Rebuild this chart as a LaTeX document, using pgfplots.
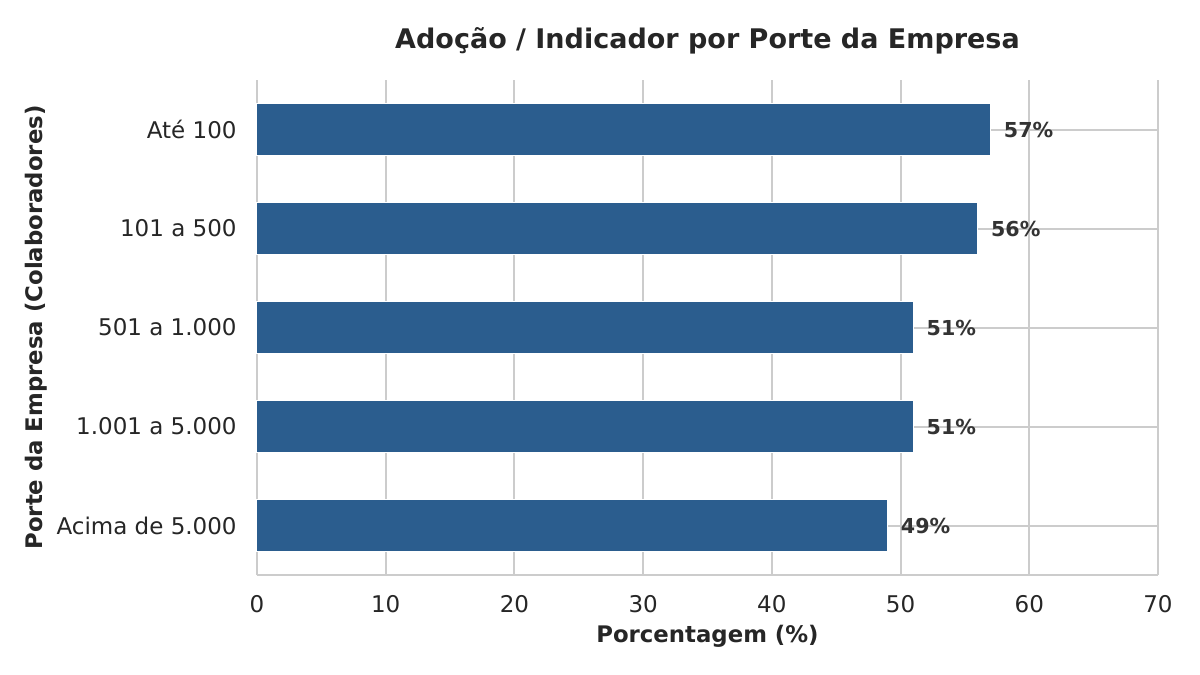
\documentclass[border=0pt]{standalone}
\usepackage{pgfplots}
\pgfplotsset{compat=1.18}
\usepackage{fontspec}
\setmainfont{DejaVu Sans}
\definecolor{barc}{HTML}{2B5D8E}
\definecolor{gridc}{HTML}{CCCCCC}
\definecolor{txt}{HTML}{262626}
\definecolor{vtxt}{HTML}{333333}
\begin{document}
\begin{tikzpicture}
\fill[white] (-128.5pt,-50pt) rectangle (471.5pt,287.5pt);
\begin{axis}[
  scale only axis,
  width=450.5pt, height=247.5pt,
  xbar, bar width=0.525,
  xmin=0, xmax=70, ymin=-0.5, ymax=4.5,
  xtick={0,10,...,70},
  ytick={0,1,2,3,4},
  yticklabels={Acima de 5.000,1.001 a 5.000,501 a 1.000,101 a 500,Até 100},
  /pgf/number format/assume math mode=true,
  hide obscured x ticks=false,
  hide obscured y ticks=false,
  axis x line*=bottom, axis y line*=left,
  axis line style={draw=gridc, line width=1.2pt, -},
  major tick length=0pt,
  xmajorgrids, ymajorgrids,
  grid style={draw=gridc, line width=1pt},
  tick label style={font=\fontsize{11.5}{13}\selectfont, text=txt},
  xticklabel style={anchor=center, yshift=-14.5pt, inner sep=0pt},
  yticklabel style={anchor=east, inner sep=0pt, xshift=-10pt},
  every axis title shift=0pt,
  title={Adoção / Indicador por Porte da Empresa},
  title style={at={(0.5,1)}, anchor=base, yshift=16pt, font=\fontsize{13.5}{16}\selectfont\bfseries, text=txt},
  xlabel={Porcentagem (\%)},
  xlabel style={at={(axis description cs:0.5,0)}, anchor=center, yshift=-30.5pt, font=\fontsize{11.4}{13}\selectfont\bfseries, text=txt},
  ylabel={Porte da Empresa (Colaboradores)},
  ylabel style={at={(axis description cs:0,0.5)}, anchor=center, yshift=110.5pt, font=\fontsize{11.4}{13}\selectfont\bfseries, text=txt},
  nodes near coords={\pgfmathprintnumber{\pgfplotspointmeta}\%},
  nodes near coords style={anchor=west, inner sep=0pt, xshift=6.4pt, font=\fontsize{10.3}{12}\selectfont\bfseries, text=vtxt},
  point meta=explicit,
  clip=false,
]
\addplot[fill=barc, draw=white, line width=0.5pt] coordinates {
  (49,0) [49]
  (51,1) [51]
  (51,2) [51]
  (56,3) [56]
  (57,4) [57]
};
\end{axis}
\end{tikzpicture}
\end{document}
